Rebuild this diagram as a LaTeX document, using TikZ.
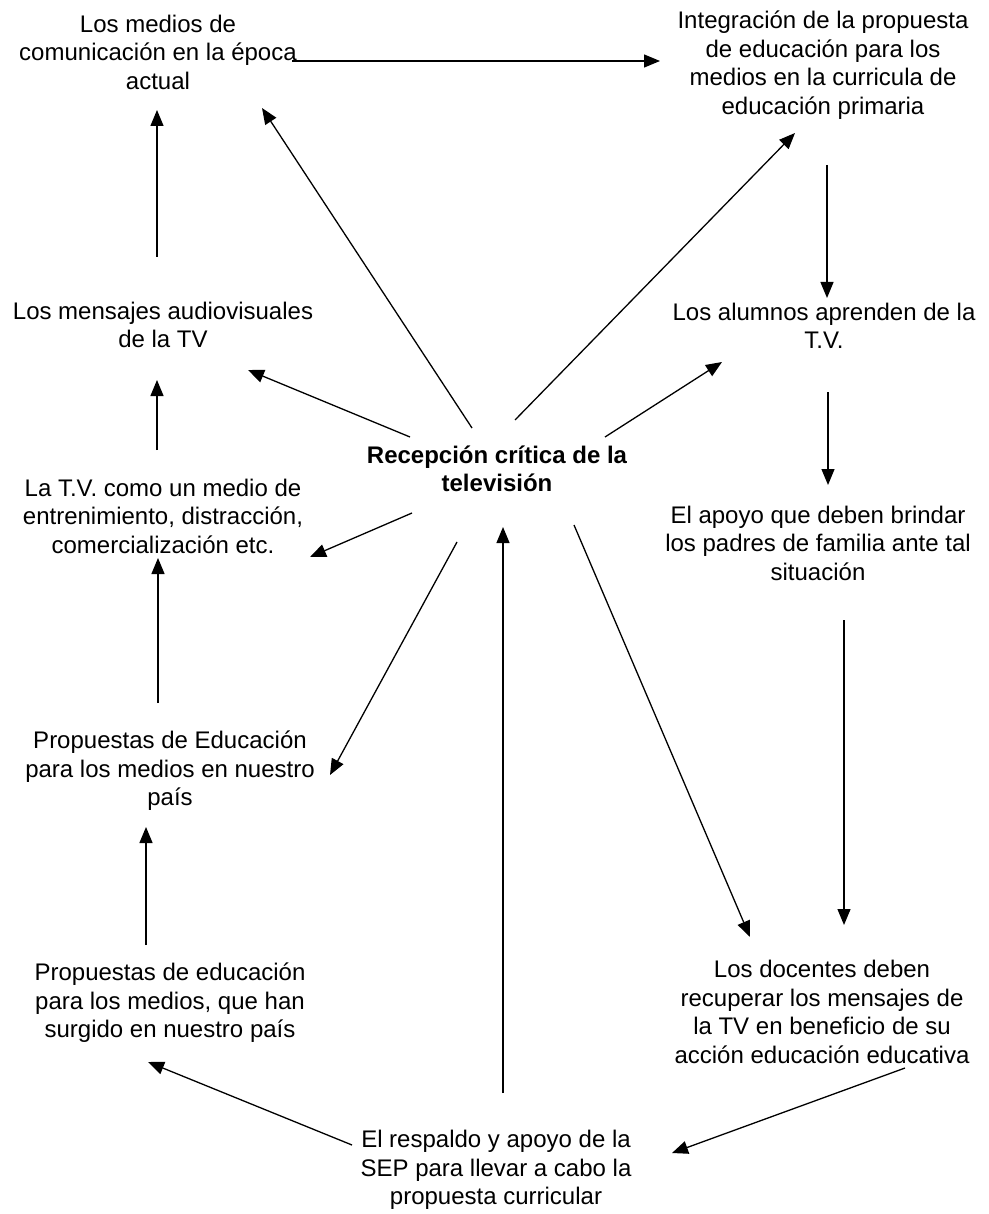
\documentclass[tikz,border=0pt]{standalone}
\usepackage{fontspec}
\setmainfont{Liberation Sans}
\usetikzlibrary{arrows.meta}
\begin{document}
\begin{tikzpicture}[x=1pt,y=-1pt]
        % Styles pour les textes et les flèches
        \tikzstyle{texte} = [align=center,inner sep=0pt,font=\fontsize{24}{28.5}\selectfont]
        \tikzstyle{fleche} = [line width=1.3pt,-{Triangle[length=16pt,width=13pt]}]

        \useasboundingbox (0,0) rectangle (988,1214);

        % Les textes
        \node[texte] (medios) at (158,52) {Los medios de\\comunicación en la época\\actual};
        \node[texte] (integracion) at (823,65) {Integración de la propuesta\\de educación para los\\medios en la curricula de\\educación primaria};
        \node[texte] (mensajes) at (163,325) {Los mensajes audiovisuales\\de la TV};
        \node[texte] (alumnos) at (824,326) {Los alumnos aprenden de la\\T.V.};
        \node[texte,font=\fontsize{24}{28.5}\selectfont\bfseries] (recepcion) at (497,469) {Recepción crítica de la\\televisión};
        \node[texte] (tv) at (163,516) {La T.V. como un medio de\\entrenimiento, distracción,\\comercialización etc.};
        \node[texte] (apoyo) at (818,543) {El apoyo que deben brindar\\los padres de familia ante tal\\situación};
        \node[texte] (propEdu) at (170,771) {Propuestas de Educación\\para los medios en nuestro\\país};
        \node[texte] (propSurg) at (170,1003) {Propuestas de educación\\para los medios, que han\\surgido en nuestro país};
        \node[texte] (docentes) at (822,1012) {Los docentes deben\\recuperar los mensajes de\\la TV en beneficio de su\\acción educación educativa};
        \node[texte] (sep) at (496,1170) {El respaldo y apoyo de la\\SEP para llevar a cabo la\\propuesta curricular};

        % Flèches du haut
        \draw[fleche] ([shift={(134,9)}]medios.center) -- ([shift={(-163,-4)}]integracion.center);
        \draw[fleche] ([shift={(-6,-68)}]mensajes.center) -- ([shift={(-1,58)}]medios.center);
        \draw[fleche] ([shift={(4,100)}]integracion.center) -- ([shift={(3,-28)}]alumnos.center);

        % Flèches qui partent du centre
        \draw[fleche] ([shift={(-25,-41)}]recepcion.center) -- ([shift={(104,56)}]medios.center);
        \draw[fleche] ([shift={(18,-49)}]recepcion.center) -- ([shift={(-28,68)}]integracion.center);
        \draw[fleche] ([shift={(-87,-32)}]recepcion.center) -- ([shift={(85,45)}]mensajes.center);
        \draw[fleche] ([shift={(108,-32)}]recepcion.center) -- ([shift={(-102,36)}]alumnos.center);
        \draw[fleche] ([shift={(-85,44)}]recepcion.center) -- ([shift={(147,41)}]tv.center);
        \draw[fleche] ([shift={(-40,73)}]recepcion.center) -- ([shift={(160,4)}]propEdu.center);
        \draw[fleche] ([shift={(77,56)}]recepcion.center) -- ([shift={(-72,-75)}]docentes.center);

        % Colonne de gauche
        \draw[fleche] ([shift={(-6,-66)}]tv.center) -- ([shift={(-6,55)}]mensajes.center);
        \draw[fleche] ([shift={(-12,-68)}]propEdu.center) -- ([shift={(-5,42)}]tv.center);
        \draw[fleche] ([shift={(-24,-58)}]propSurg.center) -- ([shift={(-24,56)}]propEdu.center);

        % Colonne de droite
        \draw[fleche] ([shift={(4,66)}]alumnos.center) -- ([shift={(10,-58)}]apoyo.center);
        \draw[fleche] ([shift={(26,77)}]apoyo.center) -- ([shift={(22,-87)}]docentes.center);

        % Flèches du bas
        \draw[fleche] ([shift={(7,-77)}]sep.center) -- ([shift={(6,58)}]recepcion.center);
        \draw[fleche] ([shift={(-144,-25)}]sep.center) -- ([shift={(-22,59)}]propSurg.center);
        \draw[fleche] ([shift={(83,56)}]docentes.center) -- ([shift={(176,-17)}]sep.center);

\end{tikzpicture}
\end{document}
